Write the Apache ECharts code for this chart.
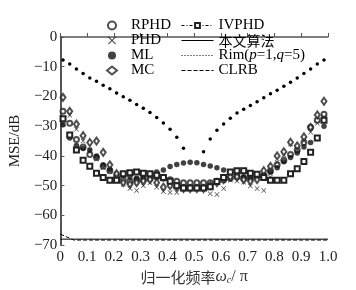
<!DOCTYPE html>
<html>
<head>
<meta charset="utf-8">
<script src="https://cdn.jsdelivr.net/npm/echarts@6/dist/echarts.min.js"></script>
<style>
  html, body { margin: 0; padding: 0; background: #fff; }
  #chart { width: 356px; height: 290px; }
</style>
</head>
<body>
<div id="chart"></div>
<script>
// normalised frequency positions of the estimator points
var xs = [0.01,0.035,0.06,0.085,0.11,0.135,0.16,0.185,0.21,0.235,0.26,0.285,0.31,0.335,0.36,0.385,0.41,0.435,0.46,0.485,
          0.51,0.535,0.56,0.585,0.61,0.635,0.66,0.685,0.71,0.735,0.76,0.785,0.81,0.835,0.86,0.885,0.91,0.935,0.96,0.985];
var lineXs = [0,0.05,0.1,0.15,0.2,0.25,0.3,0.35,0.4,0.45,0.5,0.55,0.6,0.65,0.7,0.75,0.8,0.85,0.9,0.95,1.0];

var rphd = [-25,-29,-34.5,-37,-39.5,-40.5,-43.5,-45,-47,-48,-48.5,-48,-48,-47.5,-47,-47.5,-48,-48.5,-49,-49,
            -49,-49,-49,-48.5,-48,-47.5,-47,-47.5,-47.5,-47,-46.5,-45,-43,-41.5,-39.5,-38,-35.5,-30.4,-28,-26];
var phd  = [-29.3,-26.3,-31,-35,-38,-41,-44,-45,-47,-49.5,-51,-51.6,-50,-49,-50.5,-52,-52.3,-52.3,-51,-51,
            -51,-51,-52.7,-53,-51,-48.2,-48.4,-48.9,-50.1,-51,-51.6,-47.1,-42.1,-39.7,-36,-37.5,-35,-32,-29,-27];
var ml   = [-29.5,-34,-36.5,-37.5,-38,-40,-43,-44.5,-46,-46.5,-47,-47.5,-47,-46.2,-45.4,-44.7,-43.6,-42.9,-42.4,-42.1,
            -42.3,-42.9,-43.4,-44,-44.7,-45.5,-46.5,-47,-47.5,-47,-46.5,-45.5,-44,-42,-40.5,-39,-37,-35.5,-34,-30];
var mc   = [-20.3,-25,-29.3,-33.2,-35.5,-35,-38.8,-43,-46,-49,-49.5,-49,-48.5,-48,-49,-50.5,-50,-50.5,-51,-51,
            -51,-51,-50,-49,-48,-47,-47,-48,-48.5,-48,-45,-43.5,-40,-38.6,-35.4,-36.6,-33.6,-30.4,-26.2,-21.6];
var ivphd = [-27.5,-33,-38,-41.5,-43.5,-45.8,-47.3,-48.2,-48.2,-46,-45.7,-45.4,-45.8,-46,-46.5,-47.3,-48.5,-50,-50.8,-50.8,
             -50.8,-50.8,-50.4,-48.6,-47.3,-45.4,-45,-45,-45.8,-46.2,-47.3,-48.2,-48.2,-48.2,-46,-44.3,-41.9,-38.8,-34,-28];
var rim = [-7.7,-9.1,-10.8,-12.3,-13.8,-14.9,-16.2,-17.4,-18.8,-20.1,-21.3,-22.7,-24,-25.4,-27.1,-28.9,-31,-33.7,-37.4,null,
           null,-38.6,-34.3,-31.4,-29.3,-27.3,-25.6,-24.3,-23,-21.8,-20.4,-19.1,-17.9,-16.6,-15.2,-13.8,-12.3,-10.8,-9.1,-7.7];
var proposed = [-68,-68,-68,-68,-68,-68,-68,-68,-68,-68,-68,-68,-68,-68,-68,-68,-68,-68,-68,-68,-68];
var clrb = [-66.3,-68.3,-68.3,-68.3,-68.3,-68.3,-68.3,-68.3,-68.3,-68.3,-68.3,-68.3,-68.3,-68.3,-68.3,-68.3,-68.3,-68.3,-68.3,-68.3,-68.3];
var xTicks = ['0','0.1','0.2','0.3','0.4','0.5','0.6','0.7','0.8','0.9','1.0'];

var serif = '"Liberation Serif", "Times New Roman", serif';
var crossPath = 'path://M0,1 L1,0 L5,4 L9,0 L10,1 L6,5 L10,9 L9,10 L5,6 L1,10 L0,9 L4,5 Z';

function pairs(x, y) {
  return x.map(function (v, i) { return [v, y[i]]; });
}

var chart = echarts.init(document.getElementById('chart'));

var option = {
  animation: false,
  backgroundColor: '#fff',
  grid: { left: 58, right: 28, top: 37, bottom: 43 },
  legend: [
    {
      left: 101, top: 12, orient: 'vertical',
      itemWidth: 10, itemHeight: 8, itemGap: -2,
      symbolKeepAspect: true,
      itemStyle: { borderWidth: 0.8 },
      textStyle: {
        fontFamily: serif, fontSize: 15, color: '#000', lineHeight: 17,
        rich: { t: { fontFamily: serif, fontSize: 15, color: '#000', padding: [0, 0, 0, 9] } }
      },
      formatter: function (name) { return '{t|' + name + '}'; },
      data: ['RPHD', 'PHD', 'ML', 'MC']
    },
    {
      left: 176, top: 12, orient: 'vertical',
      itemWidth: 32, itemHeight: 6, itemGap: -2,
      symbolKeepAspect: true,
      itemStyle: { borderWidth: 0.8 },
      lineStyle: { width: 1 },
      textStyle: {
        fontFamily: serif, fontSize: 15, color: '#000', lineHeight: 17,
        rich: { i: { fontFamily: serif, fontSize: 15, fontStyle: 'italic', color: '#000' } }
      },
      formatter: function (name) {
        if (name === 'Rim') return 'Rim({i|p}=1,{i|q}=5)';
        return name;
      },
      data: [
        { name: 'IVPHD', lineStyle: { width: 1, type: [3, 2, 1, 2], color: '#000', opacity: 1 } },
        { name: '本文算法', itemStyle: { opacity: 0 }, textStyle: { fontFamily: '"Noto Sans CJK SC"', fontSize: 14 } },
        { name: 'Rim', lineStyle: { width: 1, type: [1, 2], color: '#000', opacity: 1 }, itemStyle: { opacity: 0 } },
        { name: 'CLRB', itemStyle: { opacity: 0 } }
      ]
    }
  ],
  xAxis: {
    type: 'value', min: 0, max: 1, interval: 0.1,
    name: '归一化频率{i|ω}{s|c}{n|/ π}',
    nameLocation: 'middle', nameGap: 20,
    nameTextStyle: {
      fontFamily: '"Noto Sans CJK SC"', fontSize: 15, color: '#333',
      rich: {
        i: { fontFamily: serif, fontStyle: 'italic', fontSize: 16, color: '#333' },
        s: { fontFamily: serif, fontStyle: 'italic', fontSize: 10, color: '#333', verticalAlign: 'bottom', padding: [6, 0, 0, 0] },
        n: { fontFamily: serif, fontSize: 16, color: '#333' }
      }
    },
    axisLine: { lineStyle: { color: '#555', width: 1.5 } },
    axisTick: { inside: true, length: 4, lineStyle: { color: '#555' } },
    splitLine: { show: false },
    axisLabel: {
      margin: 4, fontFamily: serif, fontSize: 15, color: '#222',
      formatter: function (v) { return xTicks[Math.round(v * 10)]; }
    }
  },
  yAxis: {
    type: 'value', min: -70, max: 0, interval: 10,
    name: 'MSE/dB', nameLocation: 'middle', nameGap: 32,
    nameTextStyle: { fontFamily: serif, fontSize: 15, color: '#222' },
    axisLine: { show: true, lineStyle: { color: '#555', width: 2 } },
    axisTick: { inside: true, length: 4, lineStyle: { color: '#555' } },
    splitLine: { show: false },
    axisLabel: {
      margin: 3, fontFamily: serif, fontSize: 15, color: '#222',
      formatter: function (v) { return v < 0 ? '\u2212' + (-v) : String(v); }
    }
  },
  series: [
    { name: '本文算法', type: 'line', data: pairs(lineXs, proposed), symbol: 'none',
      itemStyle: { color: '#000' }, lineStyle: { color: '#000', width: 1 }, z: 1 },
    { name: 'CLRB', type: 'line', data: pairs(lineXs, clrb), symbol: 'none',
      itemStyle: { color: '#000' }, lineStyle: { color: '#000', width: 1, type: [4, 2] }, z: 1 },
    { name: 'Rim', type: 'line', data: pairs(xs, rim), symbol: 'circle', symbolSize: 3.5,
      showAllSymbol: true, connectNulls: false,
      itemStyle: { color: '#000' }, lineStyle: { width: 0, color: '#000' } },
    { name: 'IVPHD', type: 'line', data: pairs(xs, ivphd), symbol: 'emptyRect', symbolSize: 5,
      showAllSymbol: true,
      itemStyle: { color: '#222', borderColor: '#222', borderWidth: 0.9 },
      lineStyle: { width: 0, color: '#000' } },
    { name: 'RPHD', type: 'scatter', data: pairs(xs, rphd), symbol: 'emptyCircle', symbolSize: 5,
      itemStyle: { color: '#222', borderColor: '#222', borderWidth: 0.9 } },
    { name: 'PHD', type: 'scatter', data: pairs(xs, phd), symbol: crossPath, symbolSize: 5,
      itemStyle: { color: '#222' } },
    { name: 'ML', type: 'scatter', data: pairs(xs, ml), symbol: 'circle', symbolSize: 5.5,
      itemStyle: { color: '#111' } },
    { name: 'MC', type: 'scatter', data: pairs(xs, mc), symbol: 'emptyDiamond', symbolSize: [5, 7],
      itemStyle: { color: '#222', borderColor: '#222', borderWidth: 0.9 } }
  ]
};

chart.setOption(option);
</script>
</body>
</html>
